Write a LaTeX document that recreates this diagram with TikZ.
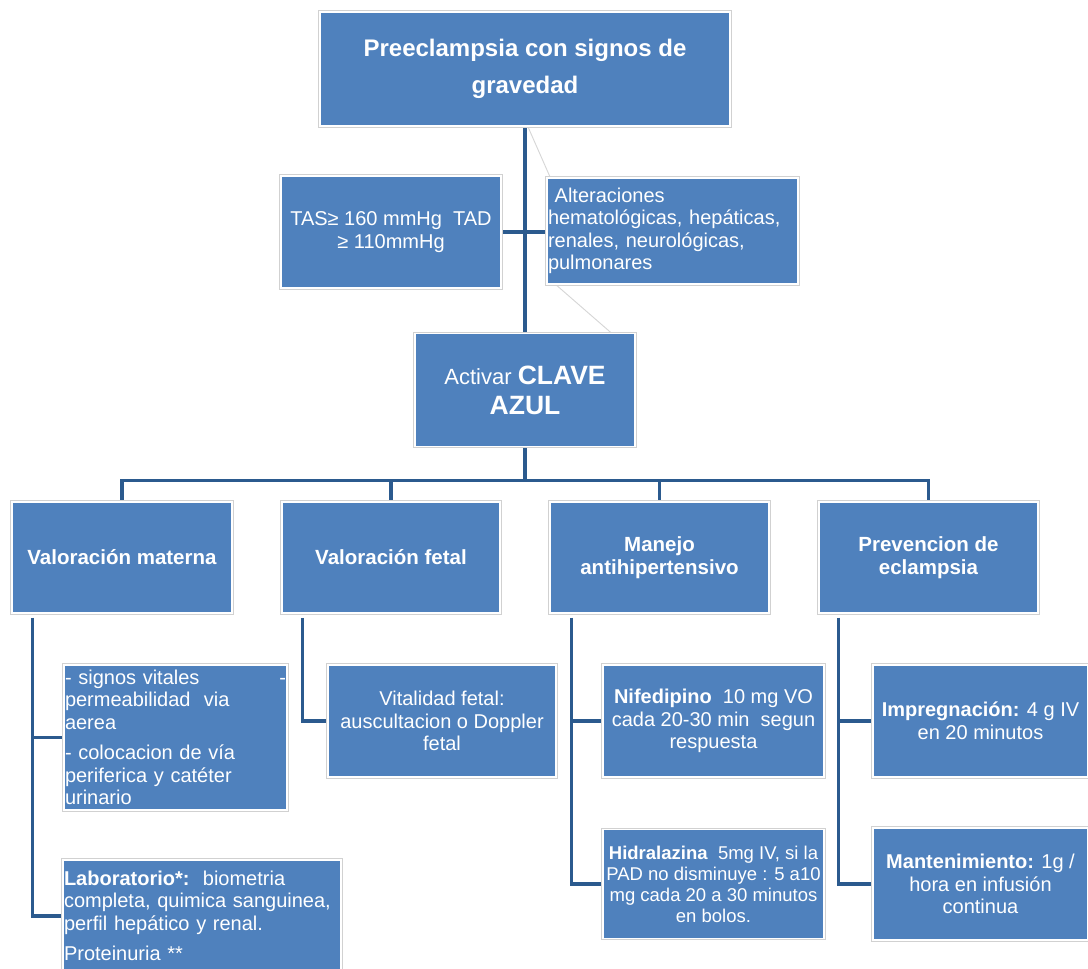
\documentclass[tikz,border=0pt]{standalone}
\usepackage{fontspec}
\setmainfont{Liberation Sans}
\usetikzlibrary{backgrounds}
\definecolor{boxblue}{HTML}{4F81BD}
\definecolor{linkblue}{HTML}{2B5A8E}
\definecolor{faintgrey}{HTML}{D6D6D6}
\begin{document}
\begin{tikzpicture}[x=1pt,y=-1pt,
  bx/.style={fill=boxblue, draw=white, line width=1.8pt,
    preaction={draw=black!18, line width=3.6pt},
    text=white, inner sep=2pt, align=center,
    font=\fontsize{20}{22.5}\selectfont},
  ttl/.style={font=\bfseries\fontsize{20.5}{23}\selectfont},
  lk/.style={draw=linkblue, line width=3.2pt},
  fl/.style={draw=faintgrey, line width=0.9pt}]
\useasboundingbox (0,0) rectangle (1088,969);

% top level
\node[bx, minimum width=410pt, minimum height=114pt,
  font=\bfseries\fontsize{24}{37}\selectfont] (top) at (525,69)
  {Preeclampsia con signos de\\gravedad};
\node[bx, minimum width=220pt, minimum height=112pt] (tas) at (391,232)
  {TAS≥ 160 mmHg\ \ TAD\\≥ 110mmHg};
\node[bx, minimum width=251pt, minimum height=106pt, text width=249pt,
  inner xsep=1pt, align=left] (alt) at (672.5,231)
  {\ Alteraciones\\hematológicas, hepáticas,\\renales, neurológicas,\\pulmonares};
\node[bx, minimum width=220pt, minimum height=113pt,
  font=\fontsize{22}{30}\selectfont] (clave) at (525,390)
  {Activar \textbf{\fontsize{26.5}{30}\selectfont CLAVE}\\\textbf{\fontsize{26.5}{30}\selectfont AZUL}};

% second level
\node[bx, ttl, minimum width=220pt, minimum height=111pt] (vm) at (122,557.5) {Valoración materna};
\node[bx, ttl, minimum width=218pt, minimum height=111pt] (vf) at (391,557.5) {Valoración fetal};
\node[bx, ttl, minimum width=219pt, minimum height=111pt] (ma) at (659.5,557.5) {Manejo\\antihipertensivo};
\node[bx, ttl, minimum width=219pt, minimum height=111pt] (pe) at (928.5,557.5) {Prevencion de\\eclampsia};

% third level
\node[bx, minimum width=223pt, minimum height=145pt, text width=221pt,
  inner xsep=1pt, align=left] (sv) at (175.5,737.5)
  {- signos vitales\hfill -\\permeabilidad\ \ via\\aerea\\[8pt]- colocacion de vía\\periferica y catéter\\urinario};
\node[bx, minimum width=278pt, minimum height=112pt, text width=276pt,
  inner xsep=1pt, align=left] (lab) at (202,916)
  {\textbf{Laboratorio*:}\ \ biometria\\completa, quimica sanguinea,\\perfil hepático y renal.\\[8pt]Proteinuria **};
\node[bx, minimum width=228pt, minimum height=112pt] (vit) at (442,721)
  {Vitalidad fetal:\\auscultacion o Doppler\\fetal};
\node[bx, minimum width=221pt, minimum height=112pt] (nif) at (713.5,721)
  {\textbf{Nifedipino}\ \ 10 mg VO\\cada 20-30 min\ \ segun\\respuesta};
\node[bx, minimum width=221pt, minimum height=109pt, inner xsep=0pt,
  font=\fontsize{18.5}{21}\selectfont] (hid) at (713.5,884)
  {\textbf{Hidralazina}\ \ 5mg IV, si la\\PAD no disminuye : 5 a10\\mg cada 20 a 30 minutos\\en bolos.};
\node[bx, minimum width=215pt, minimum height=112pt] (imp) at (980.5,721)
  {\textbf{Impregnación:} 4 g IV\\en 20 minutos};
\node[bx, minimum width=215pt, minimum height=112pt] (man) at (980.5,884)
  {\textbf{Mantenimiento:} 1g /\\hora en infusión\\continua};

\begin{scope}[on background layer]
  \fill[white] (0,0) rectangle (1088,969);
  % faint lines
  \draw[fl] ([xshift=3pt]top.south) -- ([xshift=4pt]alt.north west);
  \draw[fl] ([xshift=10pt]alt.south west) -- ([xshift=-25pt]clave.north east);
  % trunk
  \draw[lk] (top.south) -- (clave.north);
  \draw[lk] (tas.east) -- (tas.east -| alt.west);
  \foreach \n in {vm,vf,ma,pe}
    \draw[lk] (clave.south) -- ++(0,33) -| (\n.north);
  % branches
  \draw[lk] ([xshift=21pt,yshift=-4pt]vm.south west) |- (sv.west);
  \draw[lk] ([xshift=21pt,yshift=-4pt]vm.south west) |- (lab.west);
  \draw[lk] ([xshift=21pt,yshift=-4pt]vf.south west) |- (vit.west);
  \draw[lk] ([xshift=22pt,yshift=-4pt]ma.south west) |- (nif.west);
  \draw[lk] ([xshift=22pt,yshift=-4pt]ma.south west) |- (hid.west);
  \draw[lk] ([xshift=20pt,yshift=-4pt]pe.south west) |- (imp.west);
  \draw[lk] ([xshift=20pt,yshift=-4pt]pe.south west) |- (man.west);
\end{scope}
\end{tikzpicture}
\end{document}
